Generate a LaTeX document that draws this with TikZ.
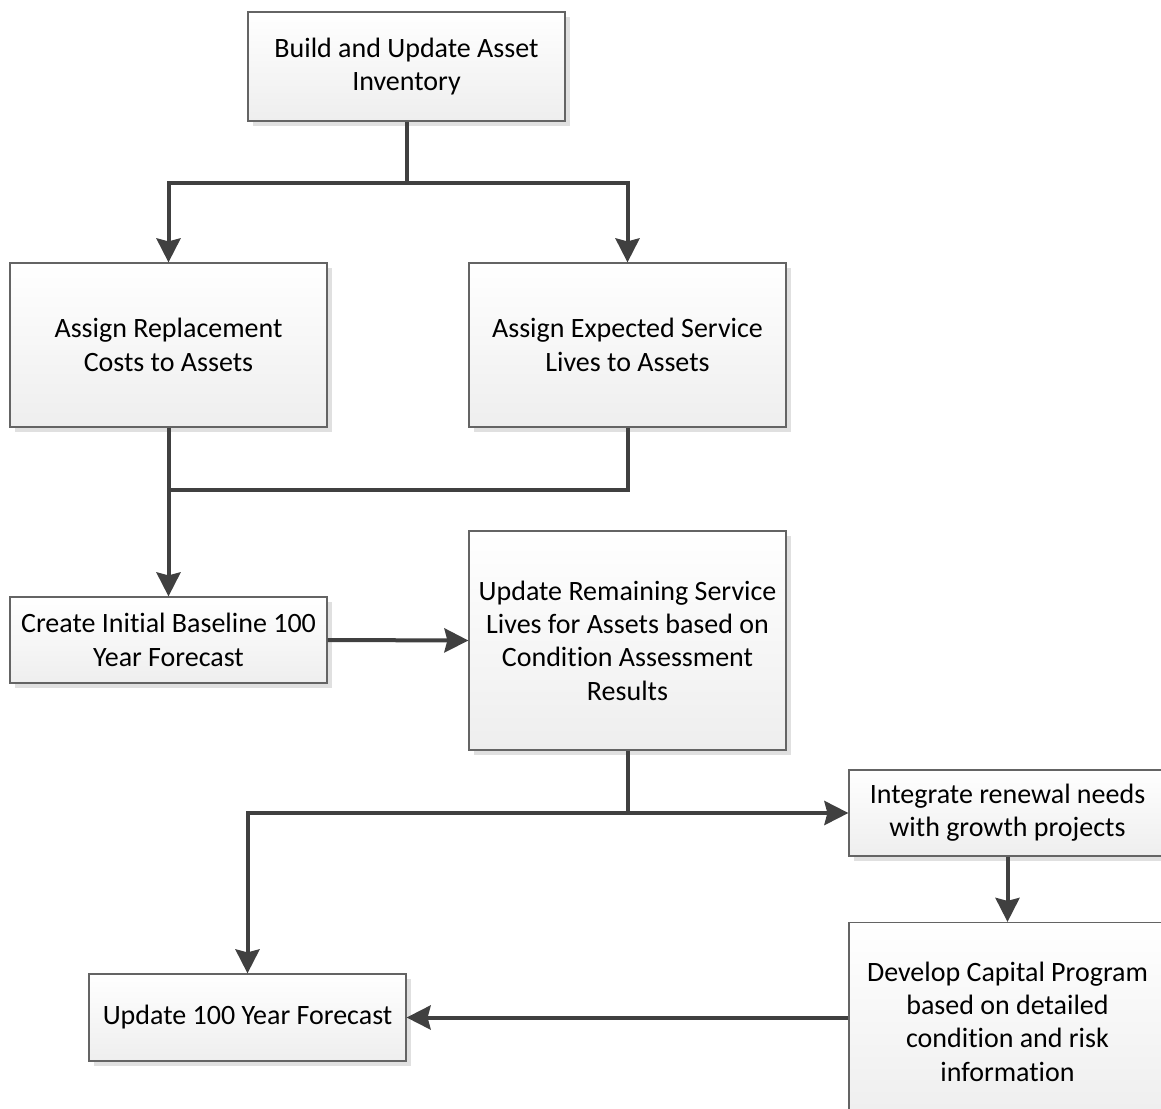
\documentclass[tikz,border=0pt]{standalone}
\usepackage{fontspec}
\setmainfont{Carlito}[Ligatures={NoCommon}, Contextuals={NoAlternate}]
\usepackage{xcolor}
\usetikzlibrary{arrows.meta, positioning, shadows}
\definecolor{linegray}{RGB}{64, 64, 64}
\definecolor{edgegray}{RGB}{100, 100, 100}
\definecolor{shadegray}{RGB}{238, 238, 238}
\tikzset{
    box/.style={
        rectangle, minimum width=317pt, draw=edgegray, line width=1.2pt,
        top color=white, bottom color=shadegray, text=black,
        font=\fontsize{28}{33.3}\selectfont, align=center, inner sep=0pt,
        drop shadow={shadow xshift=5pt, shadow yshift=-5pt, fill=black!12, opacity=1}
    },
    wire/.style={line width=4pt, color=linegray},
    arrow/.style={wire, -{Stealth[length=24pt, width=24pt, inset=3pt]}},
}
\begin{document}
\begin{tikzpicture}[x=1pt, y=-1pt]
    \clip (0,0) rectangle (1161,1108);
    \fill[white] (0,0) rectangle (1161,1108);

    % boxes
    \node[box, minimum height=109pt] (build) at (406.5,66.5) {Build and Update Asset\\Inventory};
    \node[box, minimum height=164pt] (cost) at (168.5,345) {Assign Replacement\\Costs to Assets};
    \node[box, minimum height=164pt] (life) at (627.5,345) {Assign Expected Service\\Lives to Assets};
    \node[box, minimum height=86pt] (base) at (168.5,640) {Create Initial Baseline 100\\Year Forecast};
    \node[box, minimum height=219pt] (remain) at (627.5,640.5) {Update Remaining Service\\Lives for Assets based on\\Condition Assessment\\Results};
    \node[box, minimum height=86pt] (integ) at (1007.5,813) {Integrate renewal needs\\with growth projects};
    \node[box, minimum height=198pt] (devel) at (1007.5,1021.5) {Develop Capital Program\\based on detailed\\condition and risk\\information};
    \node[box, minimum height=87pt] (upd) at (247.5,1017.5) {Update 100 Year Forecast};

    % connectors
    \coordinate (split) at (406.5,183);
    \draw[wire] (build.south) -- (split);
    \draw[arrow] (split) -| (cost.north);
    \draw[arrow] (split) -| (life.north);

    \coordinate (join) at (168.5,490);
    \draw[arrow] (cost.south) -- (base.north);
    \draw[wire] (life.south) |- (join);

    \draw[arrow] (base.east) -- (remain.west);

    \coordinate (fork) at (627.5,813);
    \draw[wire] (remain.south) -- (fork);
    \draw[arrow] (fork) -- (integ.west);
    \draw[arrow] (fork) -| (upd.north);

    \draw[arrow] (integ.south) -- (devel.north);
    \draw[arrow] (devel.west |- upd.east) -- (upd.east);
\end{tikzpicture}
\end{document}
